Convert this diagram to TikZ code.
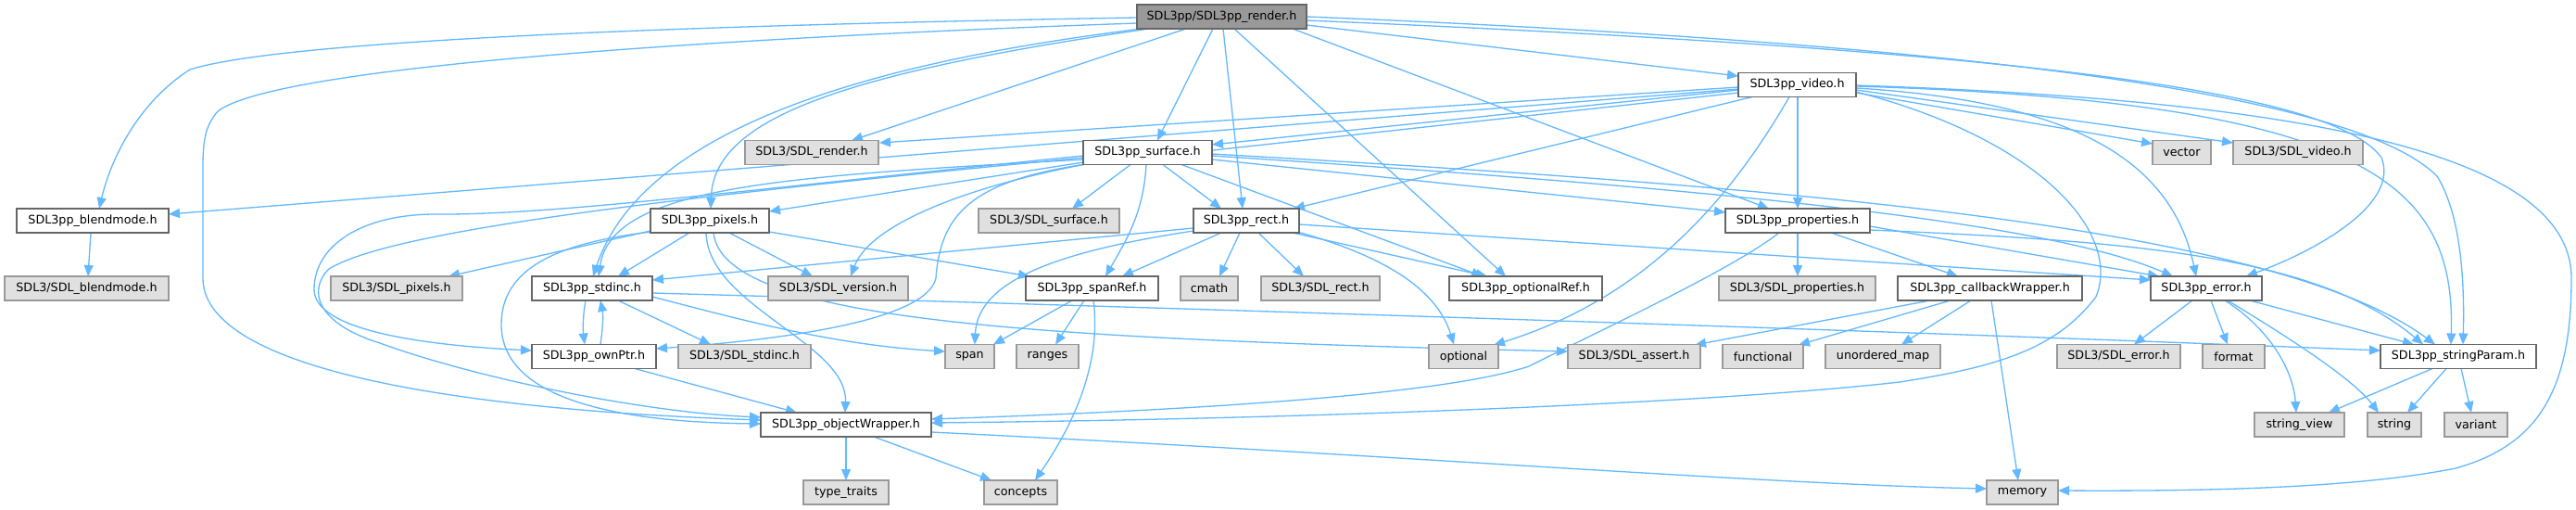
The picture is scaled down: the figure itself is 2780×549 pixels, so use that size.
\documentclass[tikz,border=0pt]{standalone}
\usepackage{fontspec}
\usetikzlibrary{arrows.meta}
\newfontfamily\dvsans{DejaVu Sans}
\newcommand\nodefont{\dvsans\fontsize{12.7pt}{15pt}\selectfont}
\definecolor{edgec}{HTML}{63B8FF}
\definecolor{bordW}{HTML}{666666}
\definecolor{bordG}{HTML}{999999}
\definecolor{fillG}{HTML}{E0E0E0}
\definecolor{fillR}{HTML}{999999}
\pgfdeclarelayer{bgl}
\pgfdeclarelayer{edges}
\pgfsetlayers{bgl,edges,main}
\tikzset{
  basebox/.style={rectangle, minimum height=26pt, inner sep=0pt, font=\nodefont, line width=1.4pt, text=black},
  wbox/.style={basebox, draw=bordW, fill=white},
  gbox/.style={basebox, draw=bordG, fill=fillG},
  rbox/.style={basebox, draw=bordW, fill=fillR},
  e/.style={draw=edgec, line width=1.3pt, -{Triangle[length=12pt,width=10pt]}}
}
\begin{document}
\begin{tikzpicture}[x=1pt,y=-1pt]
\begin{pgfonlayer}{bgl}
\fill[white] (0,0) rectangle (2780,549);
\end{pgfonlayer}
\useasboundingbox (0,0) rectangle (2780,549);
% row 1
\node[rbox, minimum width=183pt] (render) at (1318.5,18) {SDL3pp/SDL3pp\_render.h};
% row 2
\node[wbox, minimum width=127pt] (video) at (1939.5,91.5) {SDL3pp\_video.h};
% row 3
\node[gbox, minimum width=144pt] (SDLrender) at (876,164.5) {SDL3/SDL\_render.h};
\node[wbox, minimum width=139pt] (surface) at (1238.5,164.5) {SDL3pp\_surface.h};
\node[gbox, minimum width=63pt] (vector) at (2354.5,164.5) {vector};
\node[gbox, minimum width=140pt] (SDLvideo) at (2480,164.5) {SDL3/SDL\_video.h};
% row 4
\node[wbox, minimum width=164pt] (blend) at (100,238) {SDL3pp\_blendmode.h};
\node[wbox, minimum width=128pt] (pixels) at (766,238) {SDL3pp\_pixels.h};
\node[gbox, minimum width=152pt] (SDLsurface) at (1132,238) {SDL3/SDL\_surface.h};
\node[wbox, minimum width=114pt] (rect) at (1345,238) {SDL3pp\_rect.h};
\node[wbox, minimum width=156pt] (props) at (1940,238) {SDL3pp\_properties.h};
% row 5
\node[gbox, minimum width=177pt] (SDLblend) at (93.5,311) {SDL3/SDL\_blendmode.h};
\node[gbox, minimum width=142pt] (SDLpixels) at (428,311) {SDL3/SDL\_pixels.h};
\node[wbox, minimum width=130pt] (stdinc) at (639,311) {SDL3pp\_stdinc.h};
\node[gbox, minimum width=151pt] (SDLversion) at (904.5,311) {SDL3/SDL\_version.h};
\node[wbox, minimum width=143pt] (spanref) at (1178.5,311) {SDL3pp\_spanRef.h};
\node[gbox, minimum width=62pt] (cmath) at (1305,311) {cmath};
\node[gbox, minimum width=128pt] (SDLrect) at (1425,311) {SDL3/SDL\_rect.h};
\node[wbox, minimum width=165pt] (optref) at (1646.5,311) {SDL3pp\_optionalRef.h};
\node[gbox, minimum width=169pt] (SDLprops) at (1939.5,311) {SDL3/SDL\_properties.h};
\node[wbox, minimum width=199pt] (cbw) at (2147.5,311) {SDL3pp\_callbackWrapper.h};
\node[wbox, minimum width=120pt] (error) at (2381,311) {SDL3pp\_error.h};
% row 6
\node[wbox, minimum width=134pt] (ownptr) at (641,384.5) {SDL3pp\_ownPtr.h};
\node[gbox, minimum width=143pt] (SDLstdinc) at (803.5,384.5) {SDL3/SDL\_stdinc.h};
\node[gbox, minimum width=53pt] (span) at (1046.5,384.5) {span};
\node[gbox, minimum width=67pt] (ranges) at (1130.5,384.5) {ranges};
\node[gbox, minimum width=75pt] (optional) at (1579.5,384.5) {optional};
\node[gbox, minimum width=143pt] (SDLassert) at (1763.5,384.5) {SDL3/SDL\_assert.h};
\node[gbox, minimum width=87pt] (functional) at (1902.5,384.5) {functional};
\node[gbox, minimum width=124pt] (umap) at (2032,384.5) {unordered\_map};
\node[gbox, minimum width=133pt] (SDLerror) at (2286.5,384.5) {SDL3/SDL\_error.h};
\node[gbox, minimum width=67pt] (format) at (2410.5,384.5) {format};
\node[wbox, minimum width=168pt] (strparam) at (2653,384.5) {SDL3pp\_stringParam.h};
% row 7
\node[wbox, minimum width=184pt] (objw) at (913,458) {SDL3pp\_objectWrapper.h};
\node[gbox, minimum width=97pt] (strview) at (2481.5,458) {string\_view};
\node[gbox, minimum width=58pt] (string) at (2584,458) {string};
\node[gbox, minimum width=68pt] (variant) at (2672,458) {variant};
% row 8
\node[gbox, minimum width=92pt] (typetraits) at (913,531) {type\_traits};
\node[gbox, minimum width=79pt] (concepts) at (1101.5,531) {concepts};
\node[gbox, minimum width=77pt] (memory) at (2182.5,531) {memory};

\begin{pgfonlayer}{edges}
% render.h
\draw[e] ([shift={(-91.5,1)}]render.center) .. controls (700,28) and (300,45) .. (205,75) .. controls (150,110) and (120,170) .. ([shift={(7,-13)}]blend.center);
\draw[e] ([shift={(-91.5,7)}]render.center) .. controls (800,40) and (300,70) .. (235,120) .. controls (222,135) and (219,150) .. (219,180) -- (219,300) .. controls (219,390) and (450,440) .. ([shift={(-92,-5)}]objw.center);
\draw[e] ([shift={(-86.5,13)}]render.center) .. controls (1000,60) and (700,120) .. ([shift={(1,-13)}]stdinc.center);
\draw[e] ([shift={(-78.5,13)}]render.center) .. controls (900,80) and (770,130) .. ([shift={(1,-13)}]pixels.center);
\draw[e] ([shift={(-38.5,13)}]render.center) -- ([shift={(43,-13)}]SDLrender.center);
\draw[e] ([shift={(-9.5,13)}]render.center) -- ([shift={(10.5,-13)}]surface.center);
\draw[e] ([shift={(1.5,13)}]render.center) -- ([shift={(-4,-13)}]rect.center);
\draw[e] ([shift={(13.5,13)}]render.center) -- ([shift={(-21.5,-13)}]optref.center);
\draw[e] ([shift={(76.5,13)}]render.center) -- ([shift={(-31,-13)}]props.center);
\draw[e] ([shift={(91.5,9)}]render.center) -- ([shift={(-63.5,-9.5)}]video.center);
\draw[e] ([shift={(91.5,4)}]render.center) .. controls (2200,55) and (2520,100) .. (2570,170) .. controls (2590,220) and (2500,270) .. ([shift={(43,-13)}]error.center);
\draw[e] ([shift={(91.5,0)}]render.center) .. controls (2200,50) and (2550,110) .. (2630,190) .. controls (2655,230) and (2660,300) .. ([shift={(5,-13)}]strparam.center);
% video.h
\draw[e] ([shift={(-63.5,2.5)}]video.center) -- ([shift={(73,-10.5)}]SDLrender.center);
\draw[e] ([shift={(-63.5,5.5)}]video.center) -- ([shift={(69.5,-8.5)}]surface.center);
\draw[e] ([shift={(-63.5,4.5)}]video.center) -- ([shift={(82,-7)}]blend.center);
\draw[e] ([shift={(-63.5,8.5)}]video.center) -- (1172,177) .. controls (1050,195) and (1015,230) .. (1010,300) .. controls (1000,345) and (850,366) .. ([shift={(67,-8.5)}]ownptr.center);
\draw[e] ([shift={(-48.5,13)}]video.center) -- ([shift={(51,-13)}]rect.center);
\draw[e] ([shift={(0.5,13)}]video.center) -- ([shift={(0,-13)}]props.center);
\draw[e] ([shift={(-8.5,13)}]video.center) .. controls (1870,210) and (1780,320) .. ([shift={(32.5,-12.5)}]optional.center);
\draw[e] ([shift={(63.5,7.5)}]video.center) .. controls (2200,150) and (2290,250) .. (2262,320) .. controls (2220,375) and (2160,395) .. (2050,412) .. controls (1850,435) and (1400,452) .. ([shift={(92,-2)}]objw.center);
\draw[e] ([shift={(63.5,3.5)}]video.center) .. controls (2250,110) and (2345,180) .. ([shift={(-11,-13)}]error.center);
\draw[e] ([shift={(63.5,1.5)}]video.center) .. controls (2560,110) and (2650,200) .. ([shift={(-8,-13)}]strparam.center);
\draw[e] ([shift={(63.5,0.5)}]video.center) .. controls (2550,110) and (2775,180) .. (2775,300) .. controls (2775,420) and (2740,480) .. (2650,505) .. controls (2550,525) and (2400,530) .. ([shift={(38.5,-2)}]memory.center);
\draw[e] ([shift={(63.5,8.5)}]video.center) -- ([shift={(-31.5,-9.5)}]vector.center);
\draw[e] ([shift={(63.5,5.5)}]video.center) -- ([shift={(-70,-10.5)}]SDLvideo.center);
% surface.h
\draw[e] ([shift={(-69.5,7.5)}]surface.center) .. controls (850,190) and (660,200) .. ([shift={(7,-13)}]stdinc.center);
\draw[e] ([shift={(-69.5,3.5)}]surface.center) .. controls (800,205) and (600,232) .. (470,231) .. controls (390,231) and (339,265) .. (339,312) .. controls (339,355) and (450,372) .. ([shift={(-67,-6.5)}]ownptr.center);
\draw[e] ([shift={(-69.5,5.5)}]surface.center) .. controls (700,215) and (420,250) .. (355,290) .. controls (330,315) and (345,350) .. (410,370) .. controls (520,410) and (700,445) .. ([shift={(-92,-8)}]objw.center);
\draw[e] ([shift={(-69.5,10.5)}]surface.center) -- ([shift={(64,-10)}]pixels.center);
\draw[e] ([shift={(-66.5,12.5)}]surface.center) .. controls (1050,200) and (940,240) .. ([shift={(13.5,-13)}]SDLversion.center);
\draw[e] ([shift={(-18.5,13)}]surface.center) -- ([shift={(25,-13)}]SDLsurface.center);
\draw[e] ([shift={(-1.5,13)}]surface.center) .. controls (1234,230) and (1215,260) .. ([shift={(14.5,-13)}]spanref.center);
\draw[e] ([shift={(16.5,13)}]surface.center) -- ([shift={(-27,-13)}]rect.center);
\draw[e] ([shift={(36.5,13)}]surface.center) -- ([shift={(-46.5,-13)}]optref.center);
\draw[e] ([shift={(69.5,7.5)}]surface.center) -- ([shift={(-78,-9)}]props.center);
\draw[e] ([shift={(69.5,3.5)}]surface.center) .. controls (1800,200) and (2200,235) .. ([shift={(-36,-13)}]error.center);
\draw[e] ([shift={(69.5,1.5)}]surface.center) .. controls (1900,200) and (2450,240) .. ([shift={(-25,-13)}]strparam.center);
% rect.h
\draw[e] ([shift={(-57,8)}]rect.center) -- ([shift={(65,-9)}]stdinc.center);
\draw[e] ([shift={(-57,11)}]rect.center) .. controls (1150,270) and (1055,300) .. ([shift={(5.5,-13)}]span.center);
\draw[e] ([shift={(-27,13)}]rect.center) -- ([shift={(32.5,-13)}]spanref.center);
\draw[e] ([shift={(-7,13)}]rect.center) -- ([shift={(11,-13)}]cmath.center);
\draw[e] ([shift={(13,13)}]rect.center) -- ([shift={(-18,-13)}]SDLrect.center);
\draw[e] ([shift={(50,13)}]rect.center) -- ([shift={(-41.5,-13)}]optref.center);
\draw[e] ([shift={(55,12)}]rect.center) .. controls (1490,275) and (1550,310) .. ([shift={(-10.5,-13)}]optional.center);
\draw[e] ([shift={(57,4)}]rect.center) -- ([shift={(-60,-9)}]error.center);
% properties.h
\draw[e] ([shift={(0,13)}]props.center) -- ([shift={(0.5,-13)}]SDLprops.center);
\draw[e] ([shift={(36,13)}]props.center) -- ([shift={(-34.5,-13)}]cbw.center);
\draw[e] ([shift={(78,6)}]props.center) -- ([shift={(-51,-13)}]error.center);
\draw[e] ([shift={(78,10)}]props.center) .. controls (2300,260) and (2500,275) .. ([shift={(-38,-13)}]strparam.center);
\draw[e] ([shift={(-20,13)}]props.center) .. controls (1870,290) and (1740,350) .. (1650,395) .. controls (1560,425) and (1300,442) .. ([shift={(92,-6)}]objw.center);
% callbackWrapper.h
\draw[e] ([shift={(-64.5,13)}]cbw.center) -- ([shift={(65.5,-12.5)}]SDLassert.center);
\draw[e] ([shift={(-42.5,13)}]cbw.center) -- ([shift={(38.5,-12.5)}]functional.center);
\draw[e] ([shift={(-20.5,13)}]cbw.center) -- ([shift={(20,-13)}]umap.center);
\draw[e] ([shift={(1.5,13)}]cbw.center) -- ([shift={(-4.5,-13)}]memory.center);
% error.h
\draw[e] ([shift={(-15,13)}]error.center) -- ([shift={(16.5,-13)}]SDLerror.center);
\draw[e] ([shift={(5,13)}]error.center) -- ([shift={(-6.5,-13)}]format.center);
\draw[e] ([shift={(20,13)}]error.center) .. controls (2450,355) and (2475,400) .. ([shift={(-3.5,-13)}]strview.center);
\draw[e] ([shift={(23,13)}]error.center) .. controls (2480,370) and (2540,410) .. ([shift={(-17,-13)}]string.center);
\draw[e] ([shift={(47,13)}]error.center) -- ([shift={(-48,-13)}]strparam.center);
% stringParam.h
\draw[e] ([shift={(-28,13)}]strparam.center) -- ([shift={(31.5,-13)}]strview.center);
\draw[e] ([shift={(-13,13)}]strparam.center) -- ([shift={(14,-13)}]string.center);
\draw[e] ([shift={(3,13)}]strparam.center) -- ([shift={(-5,-13)}]variant.center);
% spanRef.h
\draw[e] ([shift={(-21.5,13)}]spanref.center) -- ([shift={(25.5,-13)}]span.center);
\draw[e] ([shift={(-8.5,13)}]spanref.center) -- ([shift={(8.5,-13)}]ranges.center);
\draw[e] ([shift={(1.5,13)}]spanref.center) .. controls (1190,400) and (1150,470) .. ([shift={(15.5,-13)}]concepts.center);
% objectWrapper.h
\draw[e] ([shift={(0,13)}]objw.center) -- ([shift={(0,-13)}]typetraits.center);
\draw[e] ([shift={(30,13)}]objw.center) -- ([shift={(-31.5,-13)}]concepts.center);
\draw[e] ([shift={(92,8)}]objw.center) .. controls (1500,490) and (1900,522) .. ([shift={(-38.5,-4)}]memory.center);
% ownPtr.h
\draw[e] ([shift={(7,-13)}]ownptr.center) .. controls (651,350) and (651,340) .. ([shift={(9,13)}]stdinc.center);
\draw[e] ([shift={(44,13)}]ownptr.center) -- ([shift={(-53,-13)}]objw.center);
% stdinc.h
\draw[e] ([shift={(-7,13)}]stdinc.center) .. controls (629,340) and (629,355) .. ([shift={(-10,-13)}]ownptr.center);
\draw[e] ([shift={(28,13)}]stdinc.center) -- ([shift={(-36.5,-13)}]SDLstdinc.center);
\draw[e] ([shift={(65,9)}]stdinc.center) .. controls (800,345) and (900,372) .. ([shift={(-26.5,-5.5)}]span.center);
\draw[e] ([shift={(65,5)}]stdinc.center) .. controls (1200,330) and (2000,355) .. ([shift={(-84,-6.5)}]strparam.center);
% pixels.h
\draw[e] ([shift={(-64,11)}]pixels.center) -- ([shift={(56,-13)}]SDLpixels.center);
\draw[e] ([shift={(-22,13)}]pixels.center) -- ([shift={(28,-13)}]stdinc.center);
\draw[e] ([shift={(21,13)}]pixels.center) -- ([shift={(-27.5,-13)}]SDLversion.center);
\draw[e] ([shift={(64,12)}]pixels.center) -- ([shift={(-67.5,-13)}]spanref.center);
\draw[e] ([shift={(-4,13)}]pixels.center) .. controls (764,330) and (915,370) .. ([shift={(-1,-13)}]objw.center);
\draw[e] ([shift={(-63,12)}]pixels.center) .. controls (600,262) and (541,290) .. (541,350) .. controls (541,425) and (650,455) .. ([shift={(-92,-1)}]objw.center);
\draw[e] ([shift={(4,13)}]pixels.center) .. controls (780,345) and (1100,365) .. ([shift={(-71.5,-5.5)}]SDLassert.center);
% blendmode.h
\draw[e] ([shift={(-2,13)}]blend.center) -- ([shift={(1.5,-13)}]SDLblend.center);
\end{pgfonlayer}
\end{tikzpicture}
\end{document}
